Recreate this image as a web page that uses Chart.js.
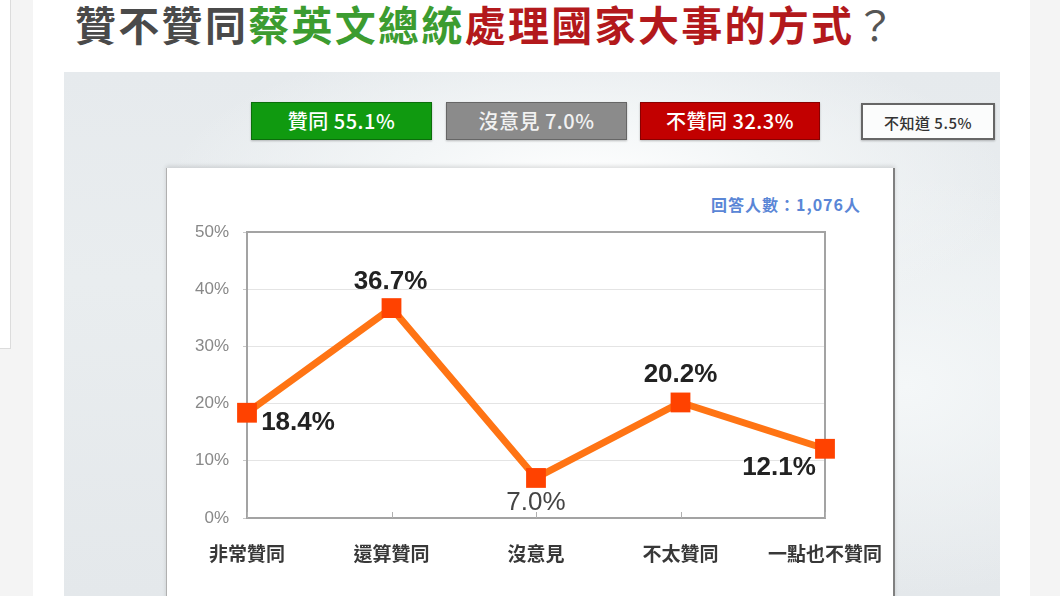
<!DOCTYPE html>
<html>
<head>
<meta charset="utf-8">
<script src="https://cdn.jsdelivr.net/npm/chart.js@4"></script>
<style>
  html, body { margin: 0; padding: 0; }
  body { width: 1060px; height: 596px; overflow: hidden; position: relative; background: #f4f4f4; font-family: "Noto Sans CJK TC", sans-serif; }
  .side-box { position: absolute; left: 0; top: 0; width: 10px; height: 348px; background: #fff; border-right: 1px solid #dcdcdc; border-bottom: 1px solid #dcdcdc; }
  .page { position: absolute; left: 33px; top: 0; width: 997px; height: 596px; background: #fff; }
  .title { position: absolute; left: 75px; top: 3px; font-size: 41px; line-height: 41px; font-weight: 700; letter-spacing: 2.3px; white-space: nowrap; color: #4a4a4a; }
  .title .g { color: #3c9c30; }
  .title .r { color: #b3191c; }
  .title .q { color: #555; font-weight: 400; }
  .panel { position: absolute; left: 64px; top: 72px; width: 936px; height: 524px;
    background: radial-gradient(ellipse 45% 30% at 56% 22%, #ffffff 0%, #f3f6f7 45%, rgba(228,232,236,0) 100%),
                radial-gradient(ellipse 30% 40% at 90% 60%, #f4f7f8 0%, rgba(228,232,236,0) 100%),
                linear-gradient(#e6eaed, #e9edef 40%, #e4e8eb); }
  .btn { position: absolute; top: 102px; height: 38px; box-sizing: border-box; color: #fff; font-size: 20px; line-height: 36px; text-align: center; font-weight: 500; letter-spacing: 0.5px; }
  .card { position: absolute; left: 166px; top: 168px; width: 726px; height: 440px; background: #fff; border-left: 1px solid #b0b0b0; border-right: 2px solid #808080; box-shadow: 0 -2px 4px rgba(0,0,0,0.12); }
  .count { position: absolute; left: 711px; top: 192px; font-size: 16px; font-weight: 700; color: #5a86d6; letter-spacing: 1px; white-space: nowrap; }
  #wrap { position: absolute; left: 166px; top: 168px; width: 730px; height: 428px; }
</style>
</head>
<body>
<div class="side-box"></div>
<div class="page"></div>
<div class="panel"></div>
<div class="title">贊不贊同<span class="g">蔡英文總統</span><span class="r">處理國家大事的方式</span><span class="q">？</span></div>
<div id="buttons"></div>
<div class="card"></div>
<div class="count">回答人數：1,076人</div>
<div id="wrap"><canvas id="chart" width="730" height="428"></canvas></div>

<script>
// ── Data ──────────────────────────────────────────
const categories = ['非常贊同', '還算贊同', '沒意見', '不太贊同', '一點也不贊同'];
const values = [18.4, 36.7, 7.0, 20.2, 12.1];
const yTickValues = [0, 10, 20, 30, 40, 50];

const summaryNames = ['贊同', '沒意見', '不贊同', '不知道'];
const summaryValues = [55.1, 7.0, 32.3, 5.5];

// ── Summary boxes ─────────────────────────────────
const boxStyles = [
  { left: 251, width: 181, bg: '#109a10', border: '#0b6e0b', color: '#fff' },
  { left: 446, width: 181, bg: '#8b8b8b', border: '#666', color: '#f2f2f2' },
  { left: 640, width: 180, bg: '#c20000', border: '#8a0000', color: '#fff' },
  { left: 861, width: 134, bg: '#fbfcfc', border: '#666', color: '#333', small: true }
];
document.getElementById('buttons').innerHTML = summaryNames.map((n, i) => {
  const s = boxStyles[i];
  const fs = s.small ? 'font-size:15px;top:103px;height:37px;border-width:2px;' : 'border-width:1px;';
  return `<div class="btn" style="left:${s.left}px;width:${s.width}px;background:${s.bg};border:1px solid ${s.border};color:${s.color};${fs}box-shadow:0 1px 2px rgba(0,0,0,0.25);">${n} ${summaryValues[i].toFixed(1)}%</div>`;
}).join('');

// ── Label placement (px from each point) ──────────
const labelOffsets = [[51, 10], [-1, -26], [0, 25], [0, -28], [-46, 19]];
const labelBold = [true, true, false, true, true];

const plotFrame = {
  id: 'plotFrame',
  beforeDatasetsDraw(chart) {
    const { ctx, chartArea: a } = chart;
    const x = chart.scales.x;
    ctx.save();
    ctx.strokeStyle = '#a3a3a3';
    ctx.lineWidth = 2;
    ctx.strokeRect(a.left, a.top, a.right - a.left, a.bottom - a.top);
    ctx.lineWidth = 1;
    ctx.strokeStyle = '#b0b0b0';
    categories.forEach((c, i) => {
      const px = Math.round(x.getPixelForValue(i)) + 0.5;
      ctx.beginPath();
      ctx.moveTo(px, a.bottom);
      ctx.lineTo(px, a.bottom - 6);
      ctx.stroke();
    });
    ctx.restore();
  }
};

const valueLabels = {
  id: 'valueLabels',
  afterDatasetsDraw(chart) {
    const { ctx } = chart;
    const meta = chart.getDatasetMeta(0);
    ctx.save();
    ctx.textAlign = 'center';
    ctx.textBaseline = 'middle';
    meta.data.forEach((pt, i) => {
      ctx.font = (labelBold[i] ? 'bold ' : '') + '26px "Liberation Sans", Arial, sans-serif';
      ctx.fillStyle = labelBold[i] ? '#222' : '#444';
      ctx.fillText(values[i].toFixed(1) + '%', pt.x + labelOffsets[i][0], pt.y + labelOffsets[i][1]);
    });
    ctx.restore();
  }
};

// ── Chart ─────────────────────────────────────────
new Chart(document.getElementById('chart').getContext('2d'), {
  type: 'line',
  data: {
    labels: categories,
    datasets: [{
      data: values,
      borderColor: '#ff7414',
      borderWidth: 7,
      pointStyle: 'rect',
      pointRadius: 14,
      pointHoverRadius: 14,
      pointBackgroundColor: '#ff4200',
      pointBorderWidth: 0,
      tension: 0
    }]
  },
  options: {
    responsive: false,
    animation: false,
    layout: { padding: { left: 0, right: 71, top: 64, bottom: 0 } },
    plugins: { legend: { display: false }, tooltip: { enabled: false } },
    scales: {
      x: {
        offset: false,
        grid: { display: false },
        border: { display: false },
        ticks: {
          color: '#383838',
          padding: 16,
          maxRotation: 0,
          autoSkip: false,
          font: { family: '"Noto Sans CJK TC", sans-serif', size: 19, weight: 'bold' }
        },
        afterFit(scale) {
          scale.height = 78;
          scale.paddingLeft = 0;
          scale.paddingRight = 0;
        }
      },
      y: {
        min: yTickValues[0],
        max: yTickValues[yTickValues.length - 1],
        grid: { color: '#e4e4e4', tickColor: '#c8c8c8', tickLength: 4, lineWidth: 1 },
        border: { display: false },
        ticks: {
          stepSize: yTickValues[1] - yTickValues[0],
          color: '#888',
          padding: 14,
          font: { family: '"Liberation Sans", Arial, sans-serif', size: 17 },
          callback: v => v + '%'
        },
        afterFit(scale) { scale.width = 81; }
      }
    }
  },
  plugins: [plotFrame, valueLabels]
});
</script>
</body>
</html>
